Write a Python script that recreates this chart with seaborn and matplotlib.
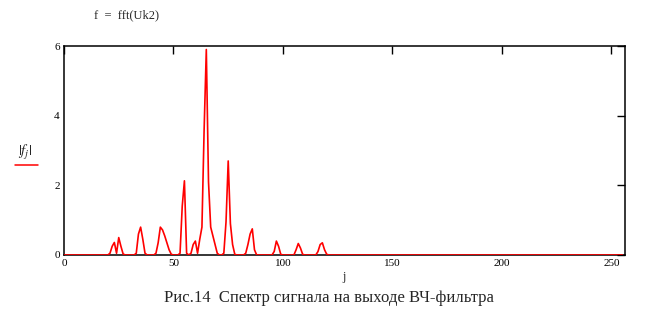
import numpy as np
import pandas as pd
import matplotlib
matplotlib.use("Agg")
import matplotlib.pyplot as plt
import seaborn as sns

# ---- data ----
n_points = 256
peak_j = [21, 22, 23, 24, 25, 26, 27,
          33, 34, 35, 36, 37,
          42, 43, 44, 45, 46, 47, 48, 49,
          53, 54, 55, 56,
          58, 59, 60, 61, 62, 63, 64, 65, 66, 67, 68, 69, 70,
          73, 74, 75, 76, 77, 78,
          83, 84, 85, 86, 87,
          96, 97, 98, 99,
          106, 107, 108, 109,
          116, 117, 118, 119, 120]
peak_f = [0.05, 0.25, 0.36, 0.05, 0.50, 0.25, 0.03,
          0.05, 0.60, 0.80, 0.45, 0.05,
          0.05, 0.35, 0.80, 0.72, 0.55, 0.35, 0.15, 0.02,
          0.05, 1.40, 2.13, 0.05,
          0.05, 0.30, 0.40, 0.05, 0.45, 0.80, 3.60, 5.90, 2.10, 0.80, 0.55, 0.30, 0.05,
          0.05, 0.95, 2.70, 0.90, 0.30, 0.02,
          0.05, 0.30, 0.60, 0.75, 0.15,
          0.10, 0.40, 0.25, 0.02,
          0.15, 0.33, 0.20, 0.02,
          0.10, 0.30, 0.35, 0.15, 0.02]
x_ticks = [0, 50, 100, 150, 200, 250]
y_ticks = [0, 2, 4, 6]

j = np.arange(n_points)
f = np.zeros(n_points)
f[peak_j] = peak_f
df = pd.DataFrame({"j": j, "f": f})

sns.set_theme(style="white")
plt.rcParams["font.family"] = ["Liberation Serif", "DejaVu Serif"]

fig = plt.figure(figsize=(6.5, 3.13), dpi=100)
ax = fig.add_axes([64 / 650, 1 - 255 / 313, (624.5 - 64) / 650, (255 - 46) / 313])

sns.lineplot(data=df, x="j", y="f", ax=ax, color="#ff0000", linewidth=1.2,
             estimator=None, zorder=3)

ax.set_xlim(0, 256)
ax.set_ylim(0, 6)
ax.set_xticks(x_ticks)
ax.set_yticks(y_ticks)
ax.set_xticklabels([str(t) for t in x_ticks])
ax.set_yticklabels([str(t) for t in y_ticks])
ax.tick_params(direction="in", length=5.5, width=1.0, color="black",
               labelsize=8, labelcolor="black", top=True, right=True,
               pad=3)
for s in ax.spines.values():
    s.set_color("black")
    s.set_linewidth(1.1)
    s.set_visible(True)
ax.set_xlabel("")
ax.set_ylabel("")
ax.grid(False)

# x label
fig.text(344 / 650, 1 - 277 / 313, "j", ha="center", va="center", fontsize=8.5)
# y label with legend line
fig.text(25 / 650, 1 - 153 / 313, r"$|f_j|$", ha="center", va="center", fontsize=10.5,
         math_fontfamily="stix")
fig.add_artist(plt.Line2D([15 / 650, 38 / 650], [1 - 164.5 / 313, 1 - 164.5 / 313],
                          color="#ff0000", linewidth=1.1, transform=fig.transFigure))
# header
fig.text(94 / 650, 1 - 15 / 313, "f  =  fft(Uk2)", ha="left", va="center", fontsize=9)
# caption
fig.text(329 / 650, 1 - 298 / 313, "Рис.14  Спектр сигнала на выходе ВЧ-фильтра",
         ha="center", va="center", fontsize=12)

fig.savefig("out.png", dpi=100, facecolor="white")
